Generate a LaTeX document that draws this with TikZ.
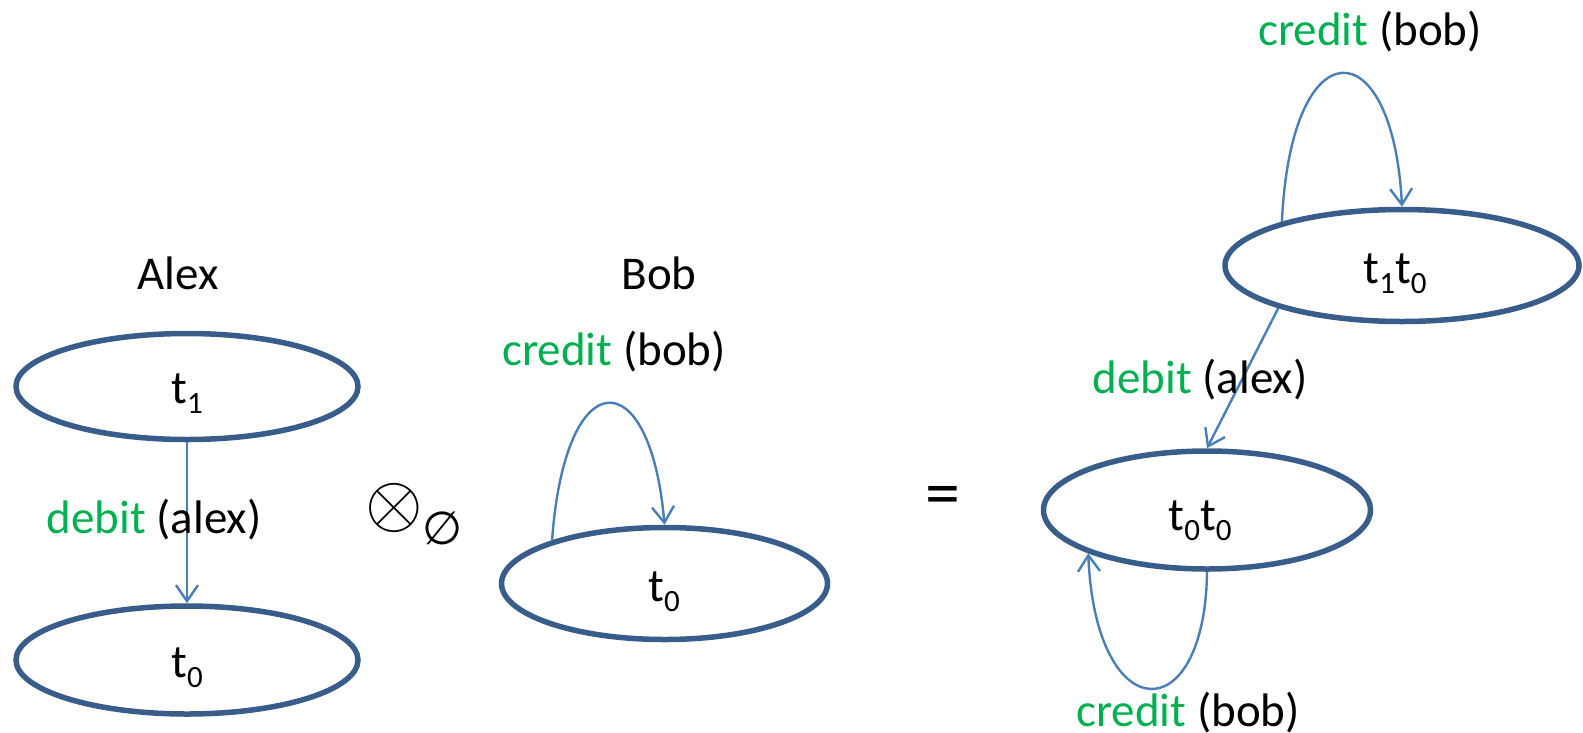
\documentclass[tikz,border=0pt]{standalone}
\usepackage{fontspec}
\setmainfont{Carlito}
\newfontfamily\symfont{DejaVu Sans}
\usetikzlibrary{shapes.geometric,arrows.meta}
\definecolor{ellblue}{HTML}{385D8A}
\definecolor{arrblue}{HTML}{4A7EBB}
\definecolor{lblgreen}{HTML}{00B050}
\tikzset{
  state/.style={ellipse, draw=ellblue, line width=5.5pt, inner sep=0pt},
  trans/.style={draw=arrblue, line width=2.4pt, -{Straight Barb[length=16pt,width=22pt]}},
  txt/.style={font=\fontsize{47}{56}\selectfont, anchor=base, inner sep=0pt},
}
\newcommand{\tsub}[1]{t\raisebox{-10pt}{\fontsize{31}{31}\selectfont #1}}
\newcommand{\act}[2]{\textcolor{lblgreen}{#1} (#2)}
\begin{document}
\begin{tikzpicture}[x=1pt,y=-1pt]
\useasboundingbox (0,0) rectangle (1583,732);
% states
\node[state, minimum width=342pt, minimum height=106pt] (a1) at (187,386.5) {};
\node[state, minimum width=342pt, minimum height=108pt] (a0) at (187,660) {};
\node[state, minimum width=326pt, minimum height=112pt] (b0) at (664.5,583.5) {};
\node[state, minimum width=354pt, minimum height=112pt] (p10) at (1402,265.5) {};
\node[state, minimum width=327pt, minimum height=118pt] (p00) at (1207,510) {};
% state labels
\node[txt] (la1) at (187,403) {\tsub{1}};
\node[txt] (la0) at (187,677) {\tsub{0}};
\node[txt] (lb0) at (664,601) {\tsub{0}};
\node[txt] (lp10) at (1395,283) {\tsub{1}\tsub{0}};
\node[txt] (lp00) at (1200,530) {\tsub{0}\tsub{0}};
% titles
\node[txt] (alex) at (178,289) {Alex};
\node[txt] (bob) at (659,289) {Bob};
% operator
\node[inner sep=0pt] (ot) at (394,508) {\scalebox{7.4}{$\otimes$}};
\node[font=\symfont\fontsize{46}{46}\selectfont, inner sep=0pt] (es) at (443,528) {∅};
\node[font=\fontsize{70}{70}\selectfont, inner sep=0pt] (eq) at (943,501) {=};
% transitions
\draw[trans] (a1.south) -- (a0.north);
\draw[trans] (b0.159) .. controls +(13,-181) and +(-14,-164) .. (b0.north);
\draw[trans] (p10.160.7) .. controls +(9,-197) and +(-9,-179) .. (p10.north);
\draw[trans] (p10.199) -- (p00.north);
\draw[trans] (p00.south) .. controls +(-2,160) and +(7,176) .. (p00.200);
% transition labels
\node[txt] (ld1) at (154,533) {\act{debit}{alex}};
\node[txt] (lc1) at (614,365) {\act{credit}{bob}};
\node[txt] (lc2) at (1370,45) {\act{credit}{bob}};
\node[txt] (ld2) at (1200,393) {\act{debit}{alex}};
\node[txt] (lc3) at (1188,726) {\act{credit}{bob}};
\end{tikzpicture}
\end{document}
